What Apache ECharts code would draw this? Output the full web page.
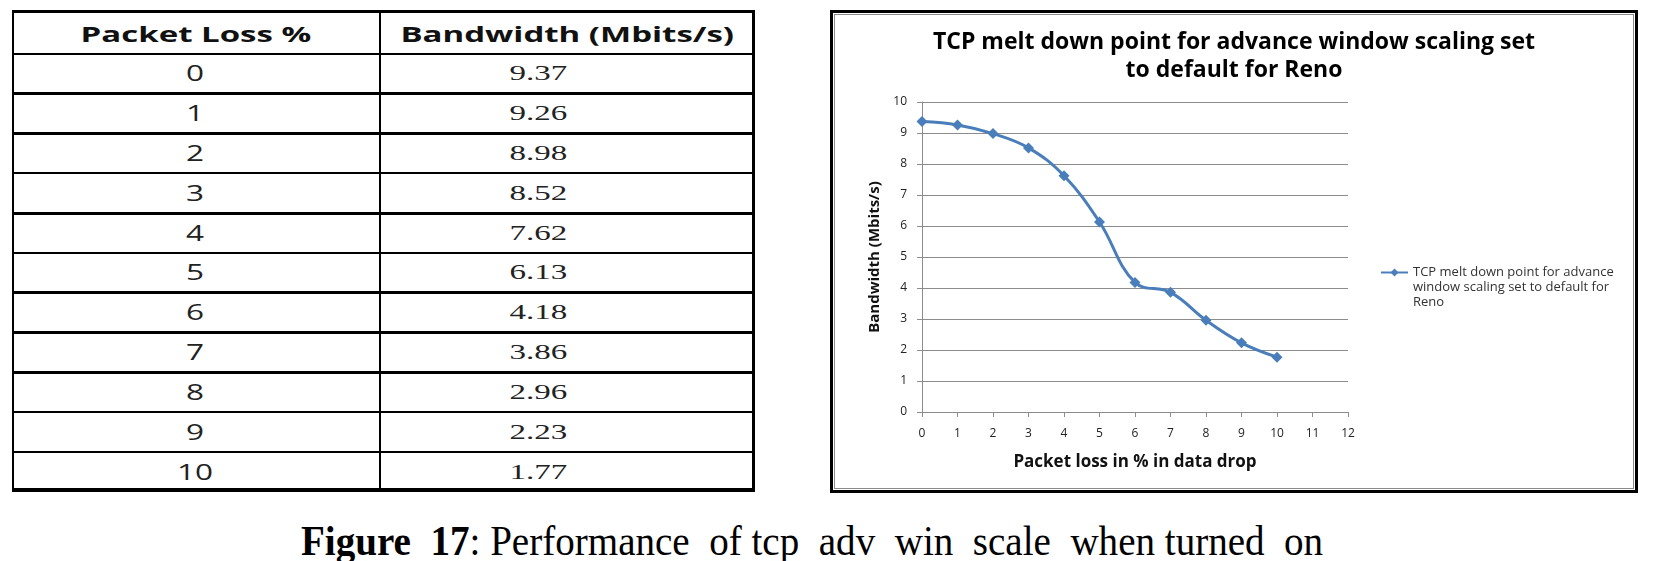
<!DOCTYPE html>
<html>
<head>
<meta charset="utf-8">
<script src="https://cdn.jsdelivr.net/npm/echarts@6/dist/echarts.min.js"></script>
<style>
  html, body { margin: 0; padding: 0; background: #fff; }
  body { width: 1657px; height: 561px; position: relative; overflow: hidden; }
  #table { position: absolute; left: 12px; top: 10px; width: 743px; height: 482px; }
  .ln { position: absolute; background: #000; }
  .cell { position: absolute; display: flex; align-items: center; justify-content: center; box-sizing: border-box; }
  .cell span { display: inline-block; transform: scaleX(1.5); white-space: nowrap; }
  .head { font-family: "Open Sans"; font-weight: bold; font-size: 22px; color: #111; padding-top: 3px; }
  .c1 { font-family: "Open Sans"; font-size: 21px; color: #222; }
  .c2 { font-family: "Liberation Serif"; font-size: 22px; color: #222; padding-right: 58px; }
  #chart { position: absolute; left: 830px; top: 10px; width: 808px; height: 483px; }
  #box { position: absolute; left: 830px; top: 10px; width: 808px; height: 483px; box-sizing: border-box;
         border: 3px solid #000; box-shadow: inset 0 0 0 1px #fff, inset 0 0 0 2px #8a8a8a; pointer-events: none; }
  #caption { position: absolute; left: 301px; top: 520px; line-height: 42px; font-family: "Liberation Serif";
             font-size: 42px; color: #000; white-space: pre; transform: scaleX(0.93); transform-origin: left top; }
</style>
</head>
<body>
<div id="table"></div>
<div id="chart"></div>
<div id="box"></div>
<div id="caption"><b>Figure  17</b>: Performance  of tcp  adv  win  scale  when turned  on</div>
<script>
  const packetLoss = [0, 1, 2, 3, 4, 5, 6, 7, 8, 9, 10];
  const bandwidth = [9.37, 9.26, 8.98, 8.52, 7.62, 6.13, 4.18, 3.86, 2.96, 2.23, 1.77];
  const tableHeaders = ['Packet Loss %', 'Bandwidth (Mbits/s)'];

  const chartTitle = 'TCP melt down point for advance window scaling set\nto default for Reno';
  const seriesName = 'TCP melt down point for advance window scaling set to default for Reno';
  const legendLines = ['TCP melt down point for advance', 'window scaling set to default for', 'Reno'];
  const xName = 'Packet loss in % in data drop';
  const yName = 'Bandwidth (Mbits/s)';

  // table, drawn as plain divs
  (function () {
    const t = document.getElementById('table');
    const W = 743, H = 482, headH = 43, colX = 367;
    const rowH = (H - headH) / packetLoss.length;
    const thick = [3, 3, 2, 3, 2, 3, 3, 3, 2, 2];

    function line(x, y, w, h) {
      const d = document.createElement('div');
      d.className = 'ln';
      d.style.cssText = `left:${x}px;top:${y}px;width:${w}px;height:${h}px`;
      t.appendChild(d);
    }
    function cell(x, y, w, h, cls, txt) {
      const d = document.createElement('div');
      d.className = 'cell ' + cls;
      d.style.cssText = `left:${x}px;top:${y}px;width:${w}px;height:${h}px`;
      const s = document.createElement('span');
      s.textContent = txt;
      d.appendChild(s);
      t.appendChild(d);
    }

    // outer frame
    line(0, 0, W, 3);
    line(0, H - 4, W, 4);
    line(0, 0, 2, H);
    line(W - 3, 0, 3, H);
    line(colX, 0, 2, H);
    line(0, headH, W, 1.5);

    cell(0, 0, colX, headH, 'head', tableHeaders[0]);
    cell(colX, 0, W - colX, headH, 'head', tableHeaders[1]);

    packetLoss.forEach((p, i) => {
      const y = headH + i * rowH;
      if (i > 0) line(0, y - 1, W, thick[i - 1]);
      cell(0, y, colX, rowH, 'c1', String(p));
      cell(colX, y, W - colX, rowH, 'c2', bandwidth[i].toFixed(2));
    });
  })();

  const chart = echarts.init(document.getElementById('chart'));
  const gridColor = '#8c8c8c';
  const font = 'Open Sans';

  chart.setOption({
    animation: false,
    title: {
      text: chartTitle,
      left: 'center',
      top: 18,
      padding: 0,
      textStyle: { fontFamily: font, fontWeight: 'bold', fontSize: 23, lineHeight: 28, color: '#000' }
    },
    grid: { left: 92, top: 92, width: 426, height: 310 },
    legend: {
      orient: 'vertical',
      left: 550,
      top: 225,
      padding: 0,
      itemWidth: 27,
      itemHeight: 10,
      // two empty lines first, so the marker sits beside the first text line
      formatter: () => '\n\n' + legendLines.join('\n'),
      textStyle: { fontFamily: font, fontSize: 13, lineHeight: 15, color: '#333' }
    },
    xAxis: {
      type: 'value',
      min: 0,
      max: 12,
      interval: 1,
      name: xName,
      nameLocation: 'middle',
      nameGap: 42,
      nameTextStyle: { fontFamily: font, fontWeight: 'bold', fontSize: 17, color: '#111' },
      axisLine: { lineStyle: { color: gridColor, width: 1 } },
      axisTick: { show: true, length: 5, lineStyle: { color: gridColor } },
      splitLine: { show: false },
      axisLabel: { fontFamily: font, fontSize: 12, color: '#222', margin: 16 }
    },
    yAxis: {
      type: 'value',
      min: 0,
      max: 10,
      interval: 1,
      name: yName,
      nameLocation: 'middle',
      nameRotate: 90,
      nameGap: 39,
      nameTextStyle: { fontFamily: font, fontWeight: 'bold', fontSize: 15, color: '#111' },
      axisLine: { show: true, lineStyle: { color: gridColor, width: 1 } },
      axisTick: { show: true, length: 5, lineStyle: { color: gridColor } },
      splitLine: { show: true, lineStyle: { color: gridColor, width: 1 } },
      axisLabel: { fontFamily: font, fontSize: 12, color: '#222', margin: 15 }
    },
    series: [{
      name: seriesName,
      type: 'line',
      data: packetLoss.map((p, i) => [p, bandwidth[i]]),
      smooth: 0.4,
      symbol: 'diamond',
      symbolSize: 11,
      color: '#4A7EBB',
      lineStyle: { width: 3 },
      itemStyle: { color: '#4A7EBB' }
    }]
  });
</script>
</body>
</html>
